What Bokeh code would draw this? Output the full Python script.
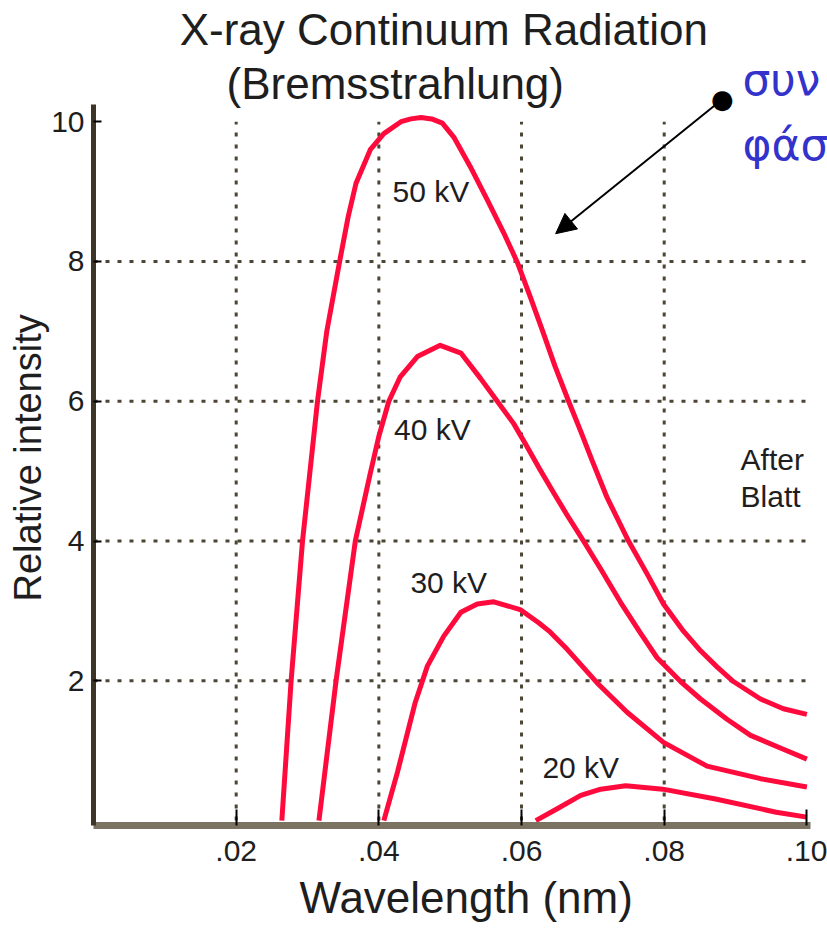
from bokeh.plotting import figure
from bokeh.models import Range1d, FixedTicker, CustomJSTickFormatter, Label, Arrow, NormalHead, Title
from bokeh.embed import file_html
from bokeh.resources import INLINE
from bokeh.core.properties import value

# ---------------- data ----------------
X_TICKS = [0.02, 0.04, 0.06, 0.08, 0.10]
Y_TICKS = [2, 4, 6, 8, 10]
GRID_X = [0.02, 0.04, 0.06, 0.08]
GRID_Y = [2, 4, 6, 8]

WAVE_50 = [0.0264, 0.0277, 0.0293, 0.0314, 0.0327, 0.0345, 0.0357, 0.0368, 0.0388, 0.0407,
           0.0431, 0.0445, 0.0459, 0.0474, 0.0489, 0.0505, 0.0528, 0.0552, 0.0575, 0.0594,
           0.0612, 0.0629, 0.0647, 0.0666, 0.0683, 0.0699, 0.0720, 0.0750, 0.0776, 0.0799,
           0.0827, 0.0851, 0.0874, 0.0897, 0.0935, 0.0967, 0.1000]
INT_50 = [0.0, 2.0, 4.0, 6.0, 7.0, 8.0, 8.64, 9.12, 9.6, 9.83,
          10.0, 10.04, 10.06, 10.04, 9.98, 9.78, 9.36, 8.88, 8.41, 7.99,
          7.50, 7.02, 6.5, 6.0, 5.57, 5.15, 4.62, 4.0, 3.53, 3.10,
          2.71, 2.43, 2.2, 1.99, 1.74, 1.60, 1.52]

WAVE_40 = [0.0316, 0.0340, 0.0367, 0.0388, 0.0400, 0.0414, 0.0430, 0.0454, 0.0486, 0.0515,
           0.0543, 0.0566, 0.0589, 0.0605, 0.0626, 0.0645, 0.0664, 0.0687, 0.0711, 0.0739,
           0.0767, 0.0790, 0.0823, 0.0851, 0.0888, 0.0921, 0.0967, 0.1000]
INT_40 = [0.0, 2.0, 4.0, 4.97, 5.5, 6.0, 6.35, 6.64, 6.80, 6.69,
          6.32, 6.0, 5.68, 5.40, 5.02, 4.69, 4.37, 4.0, 3.6, 3.12,
          2.68, 2.33, 1.99, 1.74, 1.45, 1.22, 1.02, 0.88]

WAVE_30 = [0.0407, 0.0426, 0.0451, 0.0468, 0.0491, 0.0515, 0.0538, 0.0561, 0.0598, 0.0624,
           0.0640, 0.0664, 0.0706, 0.0748, 0.0799, 0.0860, 0.0935, 0.1000]
INT_30 = [0.0, 0.69, 1.69, 2.21, 2.64, 2.98, 3.10, 3.13, 3.02, 2.83,
          2.70, 2.45, 1.97, 1.55, 1.12, 0.78, 0.60, 0.48]

WAVE_20 = [0.0620, 0.0650, 0.0683, 0.0711, 0.0746, 0.0798, 0.0872, 0.0957, 0.1000]
INT_20 = [0.0, 0.17, 0.36, 0.45, 0.50, 0.45, 0.31, 0.12, 0.05]

CURVE_LABELS = ["50 kV", "40 kV", "30 kV", "20 kV"]
LABEL_X = [0.0473, 0.0475, 0.0498, 0.0683]
LABEL_Y = [9.0, 5.6, 3.41, 0.76]

RED = "#ff0a3c"
FONT = "Liberation Sans"
TXT = "#1e1e1e"
GRID = "#4d4535"

p = figure(width=827, height=932, output_backend="svg", toolbar_location=None,
           x_range=Range1d(0, 0.10289), y_range=Range1d(-0.07, 11.734),
           min_border_left=93, min_border_right=0, min_border_top=0, min_border_bottom=105,
           title=None)
p.outline_line_color = None
p.background_fill_color = "white"
p.border_fill_color = "white"

# grid (dotted), limited to the axis extent
p.xgrid.visible = False
p.ygrid.visible = False
x_top = max(X_TICKS)
y_top = max(Y_TICKS)
p.segment(x0=GRID_X, y0=[0] * len(GRID_X), x1=GRID_X, y1=[y_top] * len(GRID_X),
          line_color=GRID, line_width=3, line_dash="4 8")
p.segment(x0=[0] * len(GRID_Y), y0=GRID_Y, x1=[x_top] * len(GRID_Y), y1=GRID_Y,
          line_color=GRID, line_width=3, line_dash="4 8")

# curves
for xs, ys in [(WAVE_50, INT_50), (WAVE_40, INT_40), (WAVE_30, INT_30), (WAVE_20, INT_20)]:
    p.line(xs, ys, line_color=RED, line_width=5, line_join="round")

# curve labels
p.text(x=LABEL_X, y=LABEL_Y, text=CURVE_LABELS, text_font=value(FONT), text_font_size="30px",
       text_color=TXT, text_align="center", text_baseline="middle")

p.add_layout(Label(x=0.0907, y=5.17, text="After", text_font=FONT, text_font_size="30px",
                   text_color=TXT, text_align="left", text_baseline="middle"))
p.add_layout(Label(x=0.0907, y=4.64, text="Blatt", text_font=FONT, text_font_size="30px",
                   text_color=TXT, text_align="left", text_baseline="middle"))

# axes
xa = p.xaxis[0]
xa.bounds = (0, 0.1005)
xa.ticker = FixedTicker(ticks=X_TICKS)
xa.formatter = CustomJSTickFormatter(code="return tick.toFixed(2).replace(/^0/, '');")
xa.axis_line_color = "#7b7262"
xa.axis_line_width = 7
xa.major_tick_in = 16
xa.major_tick_out = 0
xa.major_tick_line_color = "black"
xa.major_tick_line_width = 2
xa.minor_tick_line_color = None
xa.major_label_text_font = FONT
xa.major_label_text_font_size = "30px"
xa.major_label_text_color = TXT
xa.major_label_standoff = 15

ya = p.yaxis[0]
ya.bounds = (-0.07, 10.25)
ya.ticker = FixedTicker(ticks=Y_TICKS)
ya.axis_line_color = "#3d3528"
ya.axis_line_width = 5
ya.major_tick_in = 8
ya.major_tick_out = 0
ya.major_tick_line_color = "black"
ya.major_tick_line_width = 2
ya.minor_tick_line_color = None
ya.major_label_text_font = FONT
ya.major_label_text_font_size = "30px"
ya.major_label_text_color = TXT
ya.major_label_standoff = 9

# axis titles as side titles, shifted to the reference positions
p.add_layout(Title(text="Wavelength (nm)", align="left", offset=206, text_font=FONT,
                   text_font_size="44px", text_font_style="normal", text_color=TXT,
                   standoff=18, vertical_align="top"), "below")
p.add_layout(Title(text="Relative intensity", align="left", offset=224, text_font=FONT,
                   text_font_size="38px", text_font_style="normal", text_color=TXT,
                   standoff=0, vertical_align="bottom"), "left")

# chart title (inside the enlarged frame area)
p.add_layout(Label(x=0.0491, y=11.313, text="X-ray Continuum Radiation", text_font=FONT,
                   text_font_size="44px", text_color=TXT, text_align="center",
                   text_baseline="middle"))
p.add_layout(Label(x=0.0423, y=10.541, text="(Bremsstrahlung)", text_font=FONT,
                   text_font_size="44px", text_color=TXT, text_align="center",
                   text_baseline="middle"))

# Greek annotation with arrow
p.add_layout(Label(x=0.09097, y=10.598, text="συν", text_font="DejaVu Sans",
                   text_font_size="44px", text_color="#3333cc", text_align="left",
                   text_baseline="middle"))
p.add_layout(Label(x=0.09097, y=9.67, text="φάσ", text_font="DejaVu Sans",
                   text_font_size="44px", text_color="#3333cc", text_align="left",
                   text_baseline="middle"))
p.add_layout(Arrow(end=NormalHead(size=20, fill_color="black", line_color="black"),
                   x_start=0.08816, y_start=10.32, x_end=0.06478, y_end=8.397,
                   line_color="black", line_width=2))
p.add_layout(Label(x=0.08816, y=10.32, text="●", text_font="DejaVu Sans",
                   text_font_size="26px", text_color="black", text_align="center",
                   text_baseline="middle"))

open("out.html", "w").write(file_html(p, INLINE))
